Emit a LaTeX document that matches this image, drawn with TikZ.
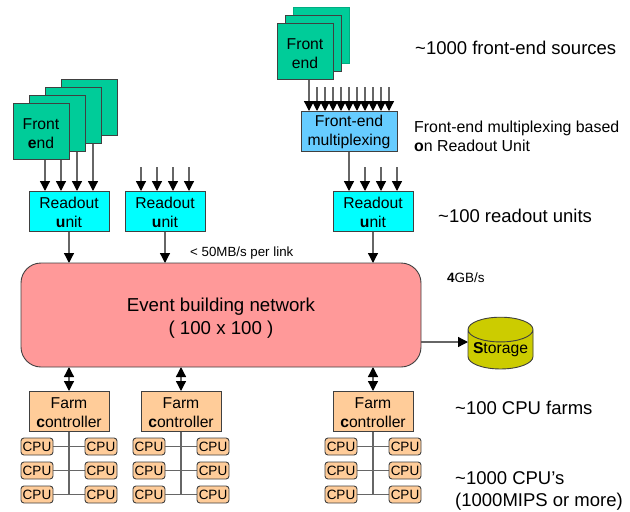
\documentclass[tikz,border=0pt]{standalone}
\usepackage{fontspec}
\setmainfont{Liberation Sans}
\usetikzlibrary{arrows.meta,calc,backgrounds,shapes.geometric}
\definecolor{fegreen}{HTML}{00CC99}
\definecolor{rucyan}{HTML}{00FFFF}
\definecolor{muxblue}{HTML}{66CCFF}
\definecolor{netpink}{HTML}{FF9999}
\definecolor{farmorange}{HTML}{FFCC99}
\definecolor{storeyellow}{HTML}{CCCC00}
\definecolor{edge}{HTML}{404040}
\definecolor{wire}{HTML}{666666}
\newcommand{\liftone}{\rule{0pt}{13.4pt}}
\newcommand{\lifttwo}{\rule{0pt}{15.4pt}}
\tikzset{
  boxbase/.style={draw=edge,line width=0.9pt,outer sep=0pt,inner sep=0pt,align=center,text=black},
  frontend/.style={boxbase,fill=fegreen,minimum width=56pt,minimum height=56pt,font=\fontsize{15.7}{19}\selectfont},
  fadedfe/.style={frontend,draw=fegreen!85!black},
  readout/.style={boxbase,fill=rucyan,minimum width=80pt,minimum height=40pt,font=\fontsize{15.7}{19}\selectfont},
  mux/.style={boxbase,fill=muxblue,minimum width=96pt,minimum height=40pt,font=\fontsize{15.7}{19}\selectfont},
  farm/.style={boxbase,fill=farmorange,minimum width=80pt,minimum height=40pt,font=\fontsize{15.7}{19}\selectfont},
  cpu/.style={boxbase,fill=farmorange,rounded corners=3pt,minimum width=32pt,minimum height=17pt,font=\fontsize{13.5}{15}\selectfont},
  netbox/.style={boxbase,fill=netpink,rounded corners=20pt,minimum width=400pt,minimum height=104pt,font=\fontsize{18.7}{23}\selectfont},
  store/.style={boxbase,fill=storeyellow,cylinder,shape border rotate=90,aspect=0.45,cylinder uses custom fill,cylinder body fill=storeyellow,cylinder end fill=storeyellow,minimum width=65pt,minimum height=44pt,font=\fontsize{15.7}{18}\selectfont},
  arrowline/.style={draw=wire,line width=1.3pt,-{Triangle[black,length=10pt,width=10pt]}},
  biarrow/.style={draw=wire,line width=1.3pt,{Triangle[black,length=10pt,width=10pt]}-{Triangle[black,length=10pt,width=10pt]}},
  bus/.style={draw=wire,line width=1.1pt},
  note/.style={anchor=west,inner sep=0pt,align=left,text=black},
  big/.style={note,font=\fontsize{18.5}{22}\selectfont},
  small/.style={note,font=\fontsize{15.9}{19}\selectfont}
}
\begin{document}
\begin{tikzpicture}[x=1pt,y=-1pt]
\useasboundingbox (0,0) rectangle (630,512);
% left front-end stack
\node[frontend] (a4) at (89,107) {};
\node[frontend] (a3) at (73,115) {};
\node[frontend] (a2) at (57,123) {};
\node[frontend] (a1) at (41,131) {\lifttwo Front\\\textbf{e}nd};
% right front-end stack
\node[fadedfe] (b3) at (321,35) {};
\node[frontend] (b2) at (313,43) {};
\node[frontend] (b1) at (305,51) {\lifttwo Front\\end};
% readout units
\node[readout] (ru1) at (69,211) {\liftone Readout\\\textbf{u}nit};
\node[readout] (ru2) at (165,211) {\liftone Readout\\\textbf{u}nit};
\node[readout] (ru3) at (373,211) {\liftone Readout\\\textbf{u}nit};
\node[mux] (mx) at (349,131) {\liftone Front-end\\multiplexing};
\node[netbox] (net) at (221,315) {\rule{0pt}{19pt}Event building network\\( 100 x 100 )};
\node[store] (st) at (500.5,349.5) {\textbf{S}torage};
\coordinate (stin) at (468,342);
% farms
\node[farm] (f1) at (69,411) {\liftone Farm\\\textbf{c}ontroller};
\node[farm] (f2) at (181,411) {\liftone Farm\\\textbf{c}ontroller};
\node[farm] (f3) at (373,411) {\liftone Farm\\\textbf{c}ontroller};
% cpus
\foreach \f/\x in {1/69,2/181,3/373}{
  \foreach \r/\y in {1/446.5,2/470.5,3/494.5}{
    \node[cpu] (c\f l\r) at (\x-32,\y) {CPU};
    \node[cpu] (c\f r\r) at (\x+32,\y) {CPU};
  }
}
\begin{pgfonlayer}{background}
  \foreach \n/\t in {a1/0,a2/1,a3/2,a4/3}{
    \draw[arrowline] ($(\n.south west)+(32,0)$) -- ($(ru1.north west)+(16+16*\t,0)$);
  }
  \draw[arrowline] ($(b1.south west)+(32,0)$) -- ($(mx.north west)+(8,0)$);
  \foreach \k in {1,...,10}{
    \coordinate (mxin\k) at ($(mx.north west)+(8+8*\k,-24)$);
    \draw[arrowline] (mxin\k) -- ($(mx.north west)+(8+8*\k,0)$);
  }
  \foreach \k in {0,...,3}{
    \coordinate (rb\k) at ($(ru2.north west)+(16+16*\k,-24)$);
    \draw[arrowline] (rb\k) -- ($(ru2.north west)+(16+16*\k,0)$);
  }
  \draw[arrowline] (mx.south) -- ($(ru3.north west)+(16,0)$);
  \foreach \k in {1,2,3}{
    \coordinate (rc\k) at ($(ru3.north west)+(16+16*\k,-24)$);
    \draw[arrowline] (rc\k) -- ($(ru3.north west)+(16+16*\k,0)$);
  }
  \draw[arrowline] (ru1.south) -- (ru1.south |- net.north);
  \draw[arrowline] (ru2.south) -- (ru2.south |- net.north);
  \draw[arrowline] (ru3.south) -- (ru3.south |- net.north);
  \draw[arrowline] (net.east |- stin) -- (stin);
  \foreach \f in {1,2,3}{
    \draw[biarrow] (f\f.north |- net.south) -- (f\f.north);
    \draw[bus] (f\f.south) -- (f\f.south |- c\f l3.east);
    \foreach \r in {1,2,3}{
      \draw[bus] (c\f l\r.east) -- (c\f r\r.west);
    }
  }
\end{pgfonlayer}
% labels
\node[big] (t1) at (415,48) {\textasciitilde1000 front-end sources};
\node[small] (t2) at (414,136.5) {Front-end multiplexing based\\\textbf{o}n Readout Unit};
\node[big] (t3) at (438,216) {\textasciitilde100 readout units};
\node[note,font=\fontsize{13.3}{15}\selectfont] (t4) at (190,253) {< 50MB/s per link};
\node[note,font=\fontsize{13.5}{15}\selectfont] (t5) at (447,278) {\textbf{4}GB/s};
\node[big] (t6) at (455,408) {\textasciitilde100 CPU farms};
\node[big] (t7) at (455,491) {\textasciitilde1000 CPU’s\\(1000MIPS or more)};
\end{tikzpicture}
\end{document}
